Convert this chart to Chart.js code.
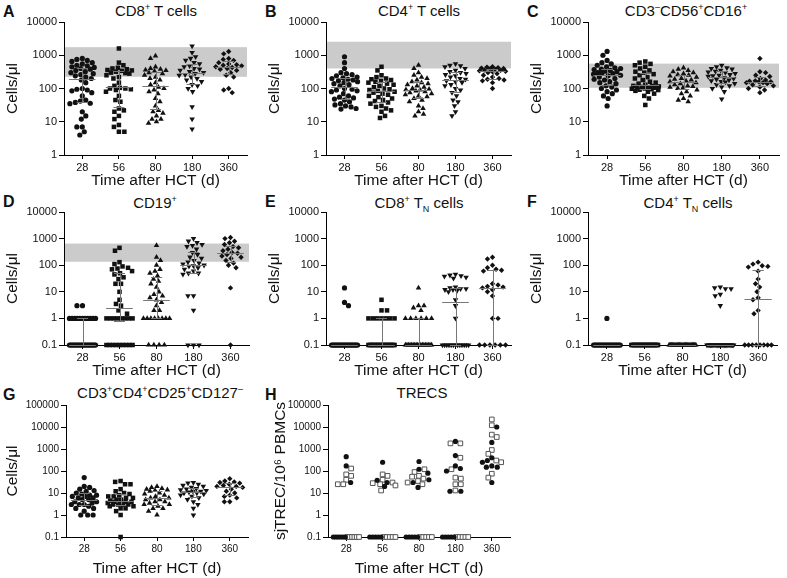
<!DOCTYPE html>
<html>
<head>
<meta charset="utf-8">
<script src="https://cdn.jsdelivr.net/npm/chart.js@4.4.1/dist/chart.umd.min.js"></script>
<style>
  body { margin: 0; background: #fff; width: 787px; height: 578px; position: relative; overflow: hidden;
         font-family: "Liberation Sans", Arial, sans-serif; color: #111; }
  canvas { position: absolute; }
  .ttl { position: absolute; font-size: 15px; line-height: 16px; white-space: nowrap; transform: translateX(-50%); }
  .ltr { position: absolute; font-size: 16px; font-weight: bold; line-height: 18px; }
  sup, sub { font-size: 9px; line-height: 0; color: #111; }
</style>
</head>
<body>
<div class="ltr" style="left:3px;top:3px">A</div>
<div class="ltr" style="left:265px;top:3px">B</div>
<div class="ltr" style="left:527px;top:3px">C</div>
<div class="ltr" style="left:3px;top:193px">D</div>
<div class="ltr" style="left:265px;top:193px">E</div>
<div class="ltr" style="left:527px;top:193px">F</div>
<div class="ltr" style="left:3px;top:386px">G</div>
<div class="ltr" style="left:265px;top:386px">H</div>

<div class="ttl" style="left:156px;top:3px">CD8<sup>+</sup> T cells</div>
<div class="ttl" style="left:419px;top:3px">CD4<sup>+</sup> T cells</div>
<div class="ttl" style="left:686px;top:3px">CD3<sup>–</sup>CD56<sup>+</sup>CD16<sup>+</sup></div>
<div class="ttl" style="left:155px;top:195px">CD19<sup>+</sup></div>
<div class="ttl" style="left:419px;top:195px">CD8<sup>+</sup> T<sub>N</sub> cells</div>
<div class="ttl" style="left:688px;top:195px">CD4<sup>+</sup> T<sub>N</sub> cells</div>
<div class="ttl" style="left:160px;top:385px">CD3<sup>+</sup>CD4<sup>+</sup>CD25<sup>+</sup>CD127<sup>–</sup></div>
<div class="ttl" style="left:422px;top:385px">TRECS</div>

<script>
// time points after HCT (days)
var timepoints = ['28', '56', '80', '180', '360'];

// y tick sets
var ticks1to10k = [1, 10, 100, 1000, 10000];
var ticksTenthTo10k = [0.1, 1, 10, 100, 1000, 10000];
var ticksTenthTo100k = [0.1, 1, 10, 100, 1000, 10000, 100000];

// normal ranges (gray bands), cells/ul
var rangeCD8 = [225, 1750];
var rangeCD4 = [400, 2550];
var rangeNK = [105, 560];
var rangeCD19 = [135, 650];

// cells/ul per patient, one list per time point; 0.1 = below detection
var cd8T = [
  [800, 750, 700, 650, 600, 550, 500, 480, 450, 430, 400, 380, 350, 320, 300, 280, 260, 240, 220, 200, 180, 150, 100, 95, 90, 85, 75, 60, 45, 42, 38, 36, 35, 20, 15, 12, 7, 7, 5, 4],
  [1600, 600, 500, 420, 400, 380, 360, 350, 340, 320, 300, 290, 280, 250, 220, 200, 150, 120, 105, 100, 100, 95, 90, 80, 60, 45, 40, 25, 22, 20, 15, 12, 8, 7, 5, 5],
  [950, 800, 450, 400, 380, 360, 350, 330, 300, 280, 250, 220, 200, 180, 150, 130, 110, 100, 90, 80, 70, 50, 40, 30, 22, 20, 18, 15, 12, 12, 10, 9],
  [1900, 1200, 900, 800, 700, 600, 550, 480, 450, 400, 380, 350, 320, 300, 280, 260, 250, 220, 200, 180, 160, 130, 120, 100, 80, 28, 12, 6],
  [1300, 1100, 800, 750, 700, 600, 550, 520, 500, 480, 450, 430, 400, 380, 350, 300, 250, 220, 100, 90, 75]
];
var cd4T = [
  [900, 600, 400, 300, 280, 260, 240, 220, 210, 200, 190, 180, 170, 160, 150, 140, 130, 120, 100, 95, 90, 85, 80, 70, 60, 55, 52, 48, 45, 40, 35, 32, 30, 28, 25, 24],
  [450, 350, 250, 220, 200, 190, 180, 170, 160, 150, 140, 130, 120, 110, 100, 95, 90, 85, 80, 75, 70, 65, 60, 55, 50, 45, 42, 38, 35, 30, 28, 25, 22, 20, 15, 13],
  [500, 400, 300, 250, 220, 200, 180, 160, 150, 140, 130, 120, 110, 100, 95, 92, 90, 85, 80, 75, 70, 65, 60, 57, 50, 45, 40, 30, 25, 20, 17, 15],
  [550, 500, 480, 450, 400, 350, 320, 300, 280, 260, 240, 220, 200, 190, 170, 160, 150, 130, 120, 100, 90, 75, 60, 45, 40, 30, 20, 15],
  [450, 440, 420, 410, 400, 390, 380, 360, 350, 340, 330, 320, 300, 280, 250, 220, 200, 190, 180, 170, 150, 100]
];
var nkCells = [
  [1300, 1000, 700, 600, 550, 500, 450, 420, 400, 380, 370, 350, 330, 320, 300, 290, 280, 270, 250, 240, 220, 200, 190, 180, 160, 150, 140, 120, 110, 100, 90, 80, 70, 60, 50, 30],
  [650, 600, 550, 500, 450, 400, 350, 320, 300, 270, 250, 220, 200, 180, 160, 150, 140, 130, 120, 118, 115, 112, 110, 108, 105, 100, 98, 95, 92, 90, 85, 80, 70, 60, 50, 32],
  [420, 380, 350, 320, 300, 280, 260, 250, 240, 220, 200, 190, 180, 170, 160, 150, 140, 130, 120, 115, 110, 105, 100, 90, 80, 70, 60, 50, 45, 40],
  [500, 450, 420, 400, 380, 350, 330, 310, 300, 280, 260, 250, 240, 230, 210, 200, 190, 180, 170, 160, 155, 140, 130, 120, 110, 100, 80, 48],
  [800, 320, 300, 250, 230, 200, 180, 170, 165, 160, 160, 150, 150, 140, 130, 120, 110, 100, 90, 75]
];
var cd19 = [
  [3, 3, 1, 1, 1, 1, 1, 1, 1, 1, 1, 1, 1, 0.1, 0.1, 0.1, 0.1, 0.1, 0.1, 0.1, 0.1, 0.1, 0.1, 0.1, 0.1, 0.1, 0.1, 0.1, 0.1, 0.1, 0.1, 0.1, 0.1, 0.1, 0.1],
  [450, 350, 130, 110, 90, 80, 75, 70, 60, 50, 45, 35, 30, 20, 20, 10, 5, 3.5, 3, 2, 1.5, 1, 1, 1, 1, 1, 1, 1, 1, 0.1, 0.1, 0.1, 0.1, 0.1, 0.1, 0.1, 0.1, 0.1],
  [550, 200, 150, 100, 70, 60, 50, 40, 30, 25, 20, 15, 10, 8, 7, 6, 5, 4, 3, 2, 2, 1, 1, 1, 1, 1, 1, 1, 1, 0.1, 0.1, 0.1, 0.1],
  [1000, 800, 700, 600, 550, 500, 400, 300, 250, 200, 180, 150, 130, 120, 110, 100, 95, 90, 80, 70, 60, 50, 50, 45, 7, 7, 2, 0.1, 0.1, 0.1],
  [1100, 1000, 800, 700, 600, 500, 450, 400, 350, 300, 280, 250, 220, 200, 180, 150, 120, 100, 80, 14, 0.1]
];
var cd8Naive = [
  [14, 4, 3, 0.1, 0.1, 0.1, 0.1, 0.1, 0.1, 0.1, 0.1, 0.1, 0.1, 0.1, 0.1, 0.1, 0.1, 0.1, 0.1, 0.1, 0.1, 0.1, 0.1, 0.1, 0.1, 0.1, 0.1, 0.1],
  [5, 2, 2, 1, 1, 1, 1, 1, 1, 1, 0.1, 0.1, 0.1, 0.1, 0.1, 0.1, 0.1, 0.1, 0.1, 0.1, 0.1, 0.1, 0.1, 0.1, 0.1, 0.1, 0.1, 0.1, 0.1, 0.1, 0.1, 0.1],
  [14, 3, 3, 2.5, 2, 1, 1, 1, 1, 1, 1, 0.1, 0.1, 0.1, 0.1, 0.1, 0.1, 0.1, 0.1, 0.1, 0.1, 0.1, 0.1, 0.1, 0.1, 0.1, 0.1, 0.1, 0.1],
  [45, 42, 40, 38, 35, 32, 15, 14, 13, 13, 12, 12, 11, 10, 5, 3, 1, 0.1, 0.1, 0.1, 0.1, 0.1, 0.1, 0.1, 0.1, 0.1, 0.1, 0.1, 0.1, 0.1],
  [200, 170, 100, 80, 70, 65, 60, 20, 18, 16, 15, 14, 12, 10, 7, 1, 1, 0.1, 0.1, 0.1, 0.1, 0.1, 0.1]
];
var cd4Naive = [
  [1, 0.1, 0.1, 0.1, 0.1, 0.1, 0.1, 0.1, 0.1, 0.1, 0.1, 0.1, 0.1, 0.1, 0.1, 0.1, 0.1, 0.1, 0.1, 0.1, 0.1, 0.1, 0.1, 0.1, 0.1],
  [0.1, 0.1, 0.1, 0.1, 0.1, 0.1, 0.1, 0.1, 0.1, 0.1, 0.1, 0.1, 0.1, 0.1, 0.1, 0.1, 0.1, 0.1, 0.1, 0.1, 0.1, 0.1, 0.1, 0.1, 0.1, 0.1, 0.1, 0.1],
  [0.1, 0.1, 0.1, 0.1, 0.1, 0.1, 0.1, 0.1, 0.1, 0.1, 0.1, 0.1, 0.1, 0.1, 0.1, 0.1, 0.1, 0.1, 0.1, 0.1, 0.1, 0.1, 0.1, 0.1],
  [15, 14, 13, 13, 8, 7, 3, 0.1, 0.1, 0.1, 0.1, 0.1, 0.1, 0.1, 0.1, 0.1, 0.1, 0.1, 0.1, 0.1, 0.1, 0.1, 0.1, 0.1, 0.1, 0.1, 0.1, 0.1, 0.1, 0.1, 0.1],
  [130, 110, 95, 90, 85, 60, 30, 20, 15, 10, 6, 5, 2, 1.5, 0.1, 0.1, 0.1, 0.1, 0.1, 0.1, 0.1, 0.1]
];
var tregs = [
  [50, 20, 18, 15, 13, 12, 10, 9, 8, 8, 7, 7, 6, 6, 5, 5, 4, 4, 3.5, 3, 3, 3, 2.5, 2, 2, 1.5, 1, 1, 1],
  [35, 32, 25, 25, 15, 12, 10, 9, 8, 7, 7, 6, 6, 5, 5, 4.5, 4, 4, 4, 3.5, 3.5, 3, 3, 3, 3, 2.5, 2.5, 2, 2, 1.5, 1, 0.1],
  [20, 18, 16, 15, 14, 13, 12, 10, 9, 8, 7, 6, 6, 5, 5, 4, 4, 3.5, 3, 3, 2.5, 2, 2, 1.5, 1],
  [30, 28, 25, 22, 20, 18, 16, 15, 14, 13, 12, 12, 11, 10, 10, 9, 8, 7, 6, 5, 4, 3, 2, 1],
  [45, 35, 32, 30, 28, 25, 22, 20, 20, 18, 15, 12, 10, 8, 7, 6, 4, 4]
];
// sjTREC per 10^6 PBMCs, two patient sets (filled circles / open squares)
var trecCircles = [
  [450, 170, 30, 0.1, 0.1, 0.1, 0.1, 0.1, 0.1],
  [250, 38, 30, 20, 0.1, 0.1, 0.1, 0.1, 0.1],
  [270, 120, 80, 40, 30, 18, 0.1, 0.1, 0.1, 0.1, 0.1],
  [2200, 500, 170, 130, 100, 12, 12, 0.1, 0.1, 0.1, 0.1, 0.1],
  [10000, 2000, 400, 300, 250, 170, 150, 150, 30]
];
var trecSquares = [
  [130, 70, 60, 40, 25, 25, 0.1, 0.1, 0.1, 0.1, 0.1, 0.1],
  [70, 60, 40, 30, 28, 25, 22, 13, 0.1, 0.1, 0.1, 0.1, 0.1],
  [120, 90, 60, 55, 45, 35, 30, 25, 0.1, 0.1, 0.1, 0.1, 0.1],
  [1800, 1800, 400, 120, 50, 45, 25, 25, 13, 0.1, 0.1, 0.1, 0.1, 0.1],
  [22000, 12000, 4500, 3500, 900, 600, 300, 250, 75, 50]
];

Chart.defaults.font.family = '"Liberation Sans", Arial, sans-serif';
Chart.defaults.color = '#111';

var axisFont = { size: 15.5 };
var shapes = [
  { style: 'circle', r: 2.6, rot: 0 },
  { style: 'rect', r: 3.2, rot: 0 },
  { style: 'triangle', r: 3.2, rot: 0 },
  { style: 'triangle', r: 3.2, rot: 180 },
  { style: 'rectRot', r: 2.7, rot: 0 }
];

// beeswarm: identical values form a flat row, the rest avoid overlapping
function swarm(values, group, pxDec) {
  var pxUnit = 36.8, D = 5.2, cap = 13;
  var out = [], placed = [], counts = {}, rows = {};
  values.forEach(function (v) { counts[v] = (counts[v] || 0) + 1; });
  values.forEach(function (v, k) { if (counts[v] >= 4) (rows[v] = rows[v] || []).push(k); });
  Object.keys(rows).forEach(function (key) {
    var idx = rows[key], n = idx.length, step = Math.min(D, 2 * cap / (n - 1));
    idx.forEach(function (k, j) {
      var off = (j - (n - 1) / 2) * step;
      out[k] = { x: group + off / pxUnit, y: values[k] };
      placed.push({ dx: off, py: Math.log10(values[k]) * pxDec });
    });
  });
  var rest = values.map(function (v, k) { return k; })
    .filter(function (k) { return !out[k]; })
    .sort(function (a, b) { return values[b] - values[a]; });
  rest.forEach(function (k, order) {
    var py = Math.log10(values[k]) * pxDec, best = 0, bestD = -1, done = false;
    var signs = order % 2 ? [-1, 1] : [1, -1];
    for (var s = 0; s <= cap && !done; s += 0.5) {
      for (var t = 0; t < 2; t++) {
        var off = s * signs[t], md = Infinity;
        placed.forEach(function (p) { md = Math.min(md, Math.hypot(p.dx - off, p.py - py)); });
        if (md >= D) { best = off; done = true; break; }
        if (md > bestD) { bestD = md; best = off; }
      }
    }
    out[k] = { x: group + best / pxUnit, y: values[k] };
    placed.push({ dx: best, py: py });
  });
  return out;
}

function quant(s, p) {
  var n = s.length, pos = (n + 1) * p;
  if (pos < 1) pos = 1;
  if (pos > n) pos = n;
  var lo = Math.floor(pos), f = pos - lo;
  return lo >= n ? s[n - 1] : s[lo - 1] + f * (s[lo] - s[lo - 1]);
}

var bandPlugin = {
  id: 'band',
  beforeDatasetsDraw: function (chart, args, opts) {
    if (!opts.range) return;
    var a = chart.chartArea, y = chart.scales.y, ctx = chart.ctx;
    var top = y.getPixelForValue(opts.range[1]), bot = y.getPixelForValue(opts.range[0]);
    ctx.save();
    ctx.fillStyle = '#cbcbcb';
    ctx.fillRect(a.left + 1, top, a.right - a.left - 1, bot - top);
    ctx.restore();
  }
};

// median with interquartile range
var statsPlugin = {
  id: 'stats',
  afterDatasetsDraw: function (chart, args, opts) {
    if (!opts.show) return;
    var x = chart.scales.x, y = chart.scales.y, ctx = chart.ctx;
    ctx.save();
    ctx.strokeStyle = '#777';
    ctx.lineWidth = 1;
    chart.data.datasets.forEach(function (ds) {
      var s = ds.values.slice().sort(function (a, b) { return a - b; });
      var med = quant(s, 0.5), q1 = quant(s, 0.25), q3 = quant(s, 0.75);
      var g = ds.group;
      function hline(v, half) {
        var py = Math.round(y.getPixelForValue(v)) + 0.5;
        ctx.beginPath();
        ctx.moveTo(x.getPixelForValue(g - half), py);
        ctx.lineTo(x.getPixelForValue(g + half), py);
        ctx.stroke();
      }
      var px = Math.round(x.getPixelForValue(g)) + 0.5;
      ctx.beginPath();
      ctx.moveTo(px, y.getPixelForValue(q1));
      ctx.lineTo(px, y.getPixelForValue(q3));
      ctx.stroke();
      hline(q1, 0.15);
      hline(q3, 0.15);
      hline(med, 0.36);
    });
    ctx.restore();
  }
};

function groupDatasets(groups, pxDec) {
  return groups.map(function (vals, i) {
    return {
      data: swarm(vals, i, pxDec),
      values: vals,
      group: i,
      pointStyle: shapes[i].style,
      pointRadius: shapes[i].r,
      pointRotation: shapes[i].rot,
      pointBackgroundColor: '#111',
      pointBorderColor: '#111',
      pointBorderWidth: 0,
      clip: false
    };
  });
}

function trecDatasets(pxDec) {
  var circ = [], sq = [];
  trecCircles.forEach(function (c, i) {
    var pts = swarm(c.concat(trecSquares[i]), i, pxDec);
    circ = circ.concat(pts.slice(0, c.length));
    sq = sq.concat(pts.slice(c.length));
  });
  return [
    { data: circ, pointStyle: 'circle', pointRadius: 2.6, pointBackgroundColor: '#111', pointBorderWidth: 0, clip: false },
    { data: sq, pointStyle: 'rect', pointRadius: 3.3, pointBackgroundColor: '#fff', pointBorderColor: '#555', pointBorderWidth: 1, clip: false }
  ];
}

function makePanel(p) {
  var canvas = document.createElement('canvas');
  canvas.width = p.w;
  canvas.height = p.h;
  canvas.style.left = p.left + 'px';
  canvas.style.top = p.top + 'px';
  document.body.appendChild(canvas);
  var tickFont = { size: p.tickSize };
  new Chart(canvas, {
    type: 'scatter',
    data: { datasets: p.datasets },
    options: {
      responsive: false,
      animation: false,
      devicePixelRatio: 1,
      layout: { padding: { top: p.padTop, right: p.padRight, left: 0, bottom: 0 } },
      plugins: {
        legend: { display: false },
        tooltip: { enabled: false },
        band: { range: p.range },
        stats: { show: p.stats }
      },
      scales: {
        x: {
          type: 'linear', min: -0.5, max: 4.5,
          afterBuildTicks: function (s) { s.ticks = timepoints.map(function (t, i) { return { value: i }; }); },
          afterFit: function (s) { s.height = p.xH; },
          ticks: { callback: function (v) { return timepoints[v]; }, font: tickFont, color: '#111', padding: 2, maxRotation: 0, autoSkip: false },
          grid: { drawOnChartArea: false, color: '#000', tickLength: 4 },
          border: { color: '#000', width: 1 },
          title: { display: true, text: 'Time after HCT (d)', font: axisFont, color: '#111', padding: { top: 0, bottom: 0 } }
        },
        y: {
          type: 'logarithmic', min: p.yTicks[0], max: p.yTicks[p.yTicks.length - 1],
          afterBuildTicks: function (s) { s.ticks = p.yTicks.map(function (v) { return { value: v }; }); },
          afterFit: function (s) { s.width = p.yW; },
          ticks: { callback: function (v) { return String(v); }, font: tickFont, color: '#111', padding: 2, autoSkip: false },
          grid: { drawOnChartArea: false, color: '#000', tickLength: 5 },
          border: { color: '#000', width: 1 },
          title: { display: true, text: p.yTitle, font: axisFont, color: '#111', padding: { top: p.yTitlePad, bottom: 0 } }
        }
      }
    },
    plugins: [bandPlugin, statsPlugin]
  });
}

var cells = 'Cells/\u03bcl';
makePanel({ left: 0, top: 0, w: 262, h: 190, padTop: 22, padRight: 15, xH: 35, yW: 64, tickSize: 11, yTicks: ticks1to10k, yTitle: cells, yTitlePad: 3, range: rangeCD8, stats: true, datasets: groupDatasets(cd8T, 33.3) });
makePanel({ left: 262, top: 0, w: 262, h: 190, padTop: 22, padRight: 13, xH: 35, yW: 64, tickSize: 11, yTicks: ticks1to10k, yTitle: cells, yTitlePad: 3, range: rangeCD4, stats: true, datasets: groupDatasets(cd4T, 33.3) });
makePanel({ left: 524, top: 0, w: 263, h: 190, padTop: 22, padRight: 8, xH: 35, yW: 64, tickSize: 11, yTicks: ticks1to10k, yTitle: cells, yTitlePad: 3, range: rangeNK, stats: true, datasets: groupDatasets(nkCells, 33.3) });
makePanel({ left: 0, top: 190, w: 262, h: 190, padTop: 22, padRight: 13, xH: 35, yW: 64, tickSize: 11, yTicks: ticksTenthTo10k, yTitle: cells, yTitlePad: 3, range: rangeCD19, stats: true, datasets: groupDatasets(cd19, 26.6) });
makePanel({ left: 262, top: 190, w: 262, h: 190, padTop: 22, padRight: 13, xH: 35, yW: 64, tickSize: 11, yTicks: ticksTenthTo10k, yTitle: cells, yTitlePad: 3, range: null, stats: true, datasets: groupDatasets(cd8Naive, 26.6) });
makePanel({ left: 524, top: 190, w: 263, h: 190, padTop: 22, padRight: 10, xH: 35, yW: 64, tickSize: 11, yTicks: ticksTenthTo10k, yTitle: cells, yTitlePad: 3, range: null, stats: true, datasets: groupDatasets(cd4Naive, 26.6) });
makePanel({ left: 0, top: 380, w: 262, h: 198, padTop: 25, padRight: 14, xH: 41, yW: 66, tickSize: 10, yTicks: ticksTenthTo100k, yTitle: cells, yTitlePad: 3, range: null, stats: true, datasets: groupDatasets(tregs, 22) });
makePanel({ left: 262, top: 380, w: 262, h: 198, padTop: 25, padRight: 14, xH: 41, yW: 66, tickSize: 10, yTicks: ticksTenthTo100k, yTitle: 'sjTREC/10\u2076 PBMCs', yTitlePad: 9, range: null, stats: false, datasets: trecDatasets(22) });
</script>
</body>
</html>
